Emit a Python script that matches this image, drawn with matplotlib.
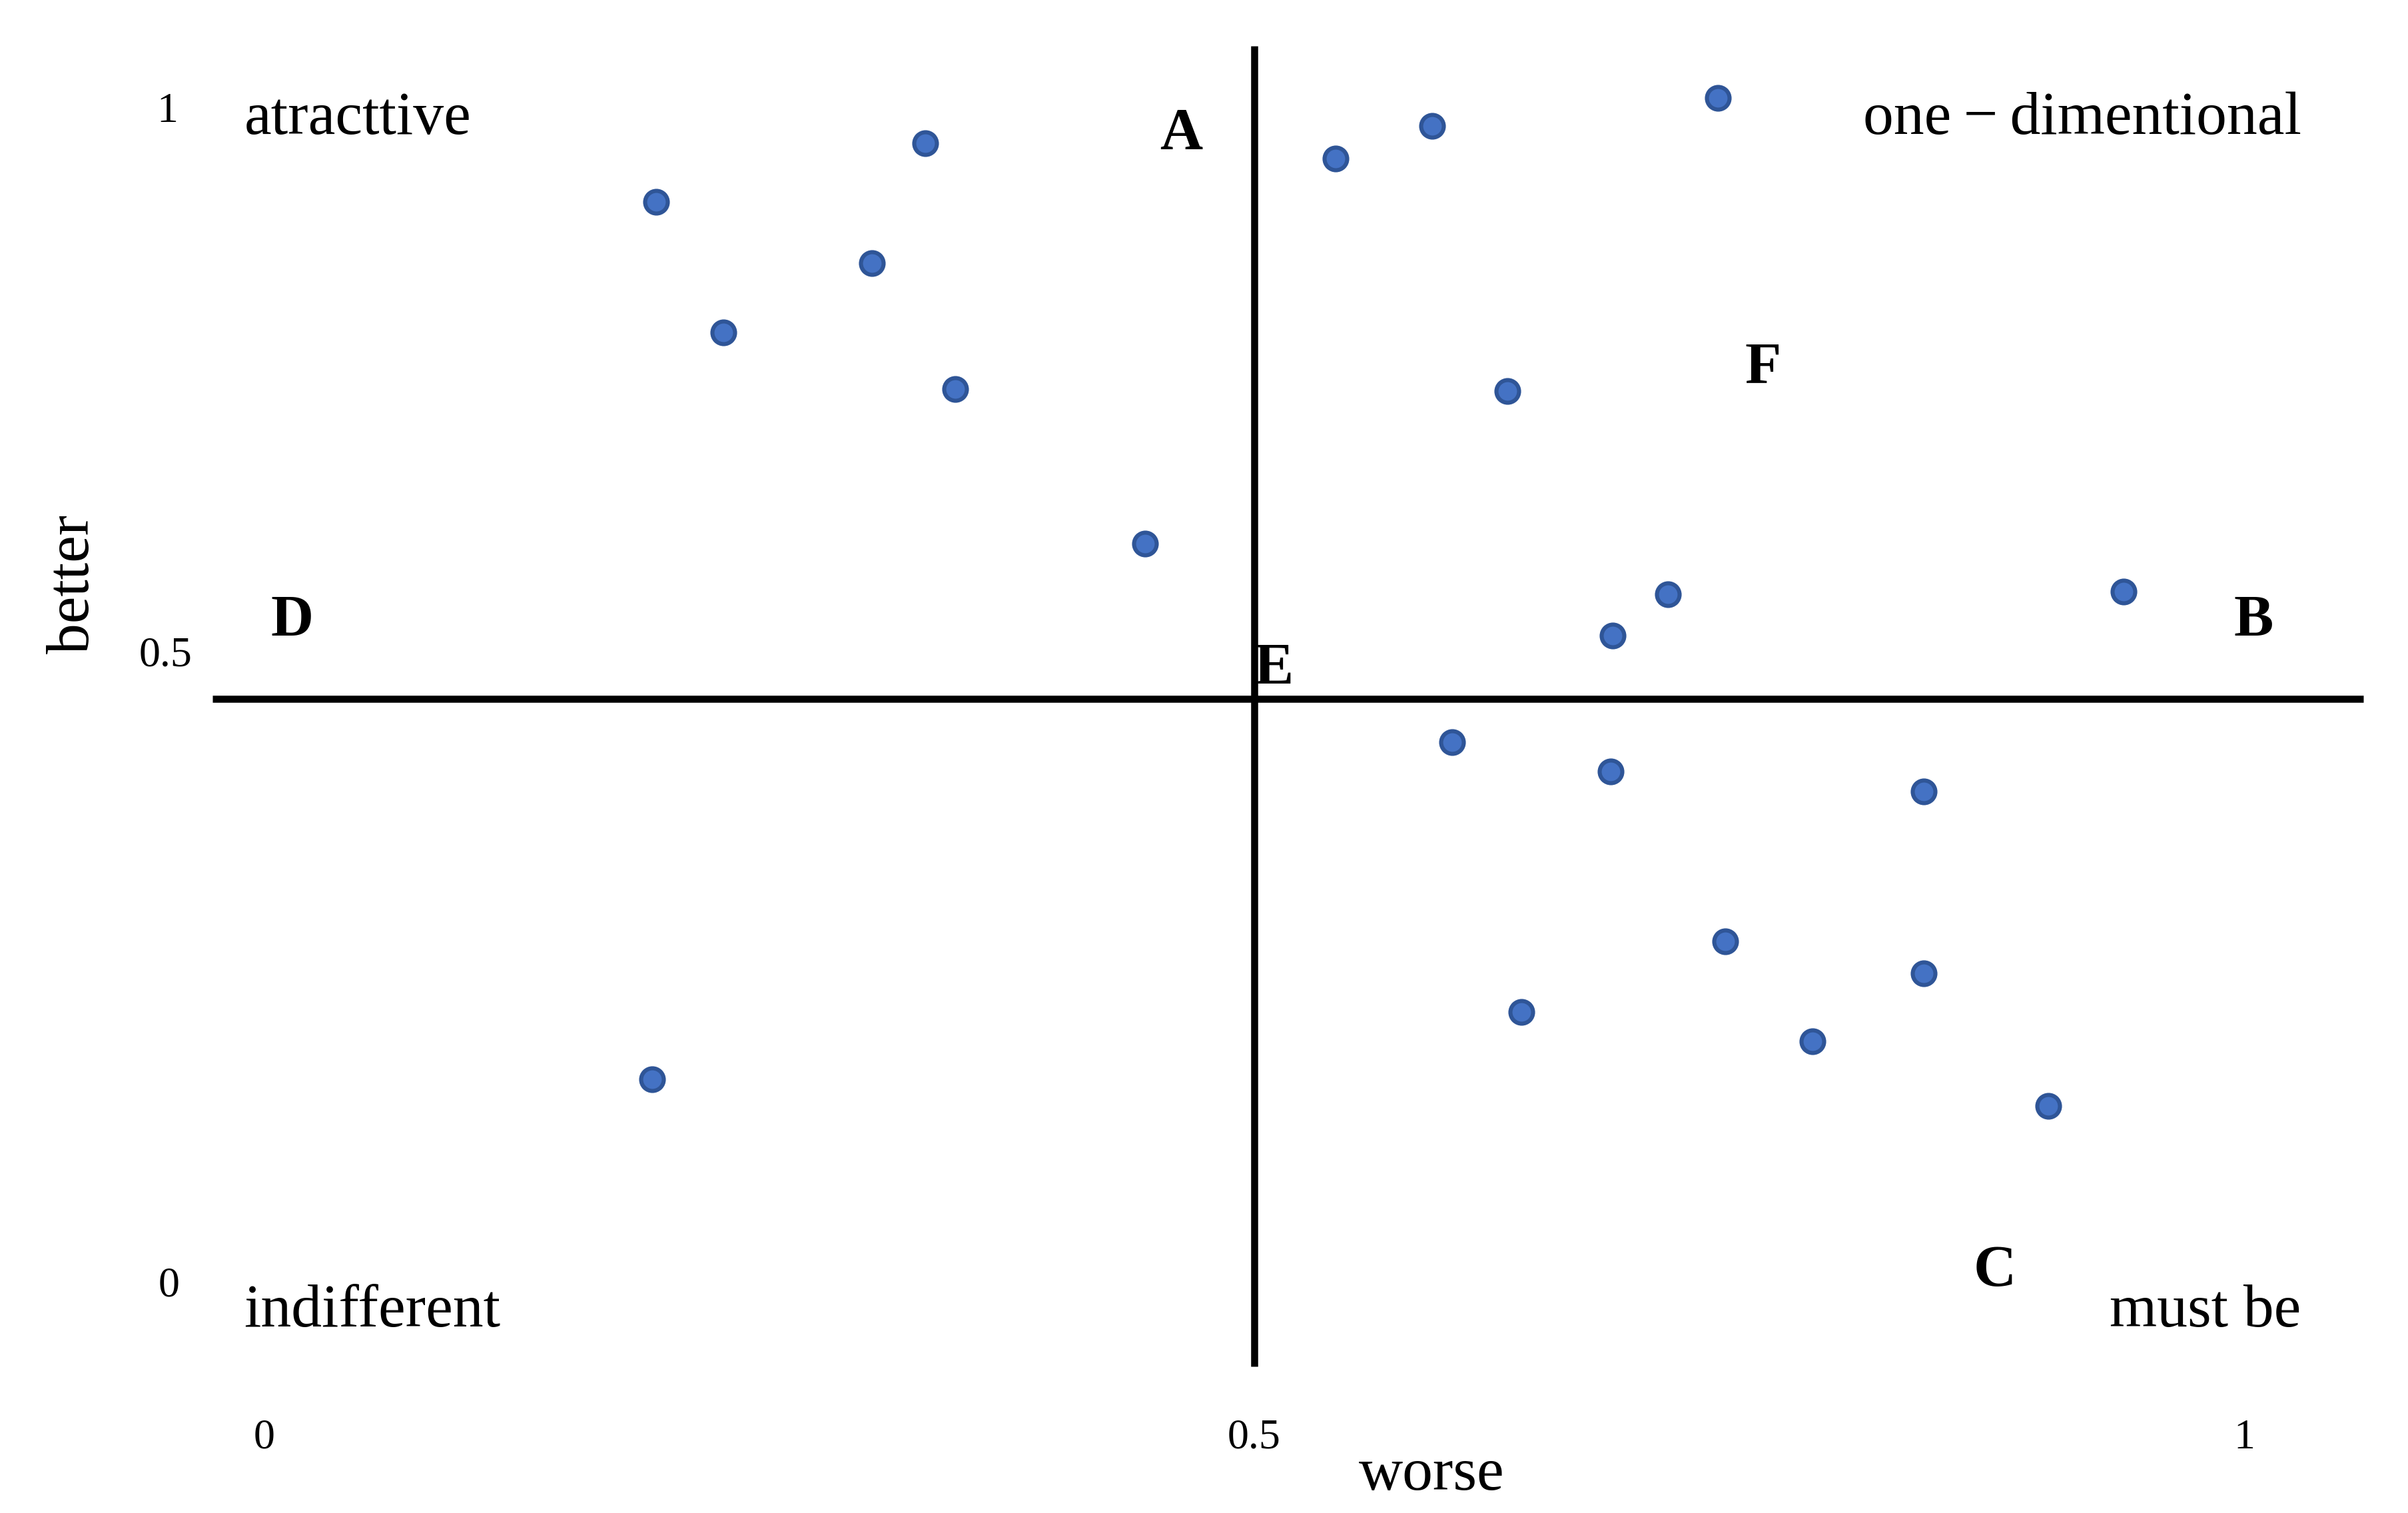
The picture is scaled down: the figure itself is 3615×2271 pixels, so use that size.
import numpy as np
import matplotlib
matplotlib.use("Agg")
import matplotlib.pyplot as plt

plt.rcParams['font.family'] = ['Liberation Serif', 'DejaVu Serif']

# worse (x) / better (y) coefficients
worse = [0.198, 0.334, 0.307, 0.232, 0.349, 0.445, 0.541, 0.590, 0.734, 0.628, 0.709,
         0.681, 0.939, 0.600, 0.680, 0.838, 0.738, 0.838, 0.635, 0.782, 0.901, 0.196]
better = [0.923, 0.973, 0.871, 0.812, 0.764, 0.632, 0.960, 0.988, 1.012, 0.762, 0.589,
          0.554, 0.591, 0.463, 0.438, 0.421, 0.293, 0.266, 0.233, 0.208, 0.153, 0.176]

tick_vals = [0, 0.5, 1]
tick_labels = ["0", "0.5", "1"]

quadrants = ["atracttive", "one\u2009\u2212\u2009dimentional", "indifferent", "must be"]
letters = ["A", "B", "C", "D", "E", "F"]

#-----------------------------------------------

fig = plt.figure(figsize=(18.08, 11.358), dpi=200)
ax = fig.add_axes([0, 0, 1, 1])
ax.set_xlim(-0.1334, 1.0830)
ax.set_ylim(-0.1937, 1.0955)
ax.axis('off')

# cross lines
ax.plot([0.5, 0.5], [-0.069, 1.056], color='black', lw=3.8, solid_capstyle='butt')
ax.plot([-0.026, 1.060], [0.5, 0.5], color='black', lw=3.8, solid_capstyle='butt')

ax.scatter(worse, better, s=150, color='#4472C4', edgecolors='#2F5597', linewidths=2.2, zorder=3)

# tick labels (drawn as text, like the original)
for v, lab in zip(tick_vals, tick_labels):
  ax.text(v, -0.1296, lab, fontsize=23, ha='center', va='center')
ax.text(-0.049, 1.0, "1", fontsize=23, ha='center', va='center')
ax.text(-0.0497, 0.537, "0.5", fontsize=23, ha='center', va='center')
ax.text(-0.048, 0.0, "0", fontsize=23, ha='center', va='center')

ax.text(0.5896, -0.161, "worse", fontsize=33, ha='center', va='center')
ax.text(-0.0962, 0.598, "better", fontsize=33, ha='center', va='center', rotation=90)

# quadrant names
ax.text(-0.0101, 0.994, quadrants[0], fontsize=33, ha='left', va='center')
ax.text(1.0287, 0.994, quadrants[1], fontsize=33, ha='right', va='center')
ax.text(-0.0101, -0.022, quadrants[2], fontsize=33, ha='left', va='center')
ax.text(1.0287, -0.022, quadrants[3], fontsize=33, ha='right', va='center')

# letters
letter_x = [0.463, 1.0047, 0.874, 0.014, 0.5097, 0.757]
letter_y = [0.981, 0.566, 0.0124, 0.566, 0.5255, 0.782]
for lx, ly, lab in zip(letter_x, letter_y, letters):
  ax.text(lx, ly, lab, fontsize=32, fontweight='bold', ha='center', va='center')

fig.savefig("out.png", dpi=200, facecolor='white')
